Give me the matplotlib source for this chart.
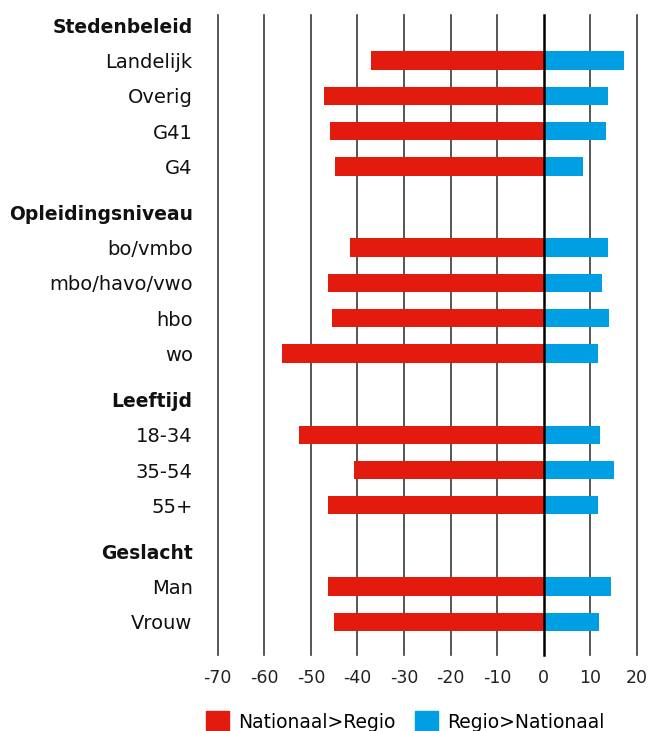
import matplotlib.pyplot as plt
from matplotlib.patches import Patch

plt.rcParams['font.family'] = ['DejaVu Sans']

# groups and their categories (top to bottom)
groups = ['Stedenbeleid', 'Opleidingsniveau', 'Leeftijd', 'Geslacht']
categories = [
    ['Landelijk', 'Overig', 'G41', 'G4'],
    ['bo/vmbo', 'mbo/havo/vwo', 'hbo', 'wo'],
    ['18-34', '35-54', '55+'],
    ['Man', 'Vrouw'],
]
nat_regio = [
    [-37.1, -47.2, -45.9, -44.8],
    [-41.6, -46.3, -45.5, -56.2],
    [-52.5, -40.7, -46.3],
    [-46.3, -45.0],
]
regio_nat = [
    [17.3, 13.8, 13.4, 8.4],
    [13.8, 12.5, 14.0, 11.7],
    [12.1, 15.1, 11.7],
    [14.5, 11.9],
]
xticks = [-70, -60, -50, -40, -30, -20, -10, 0, 10, 20]

red = '#e21b0e'
blue = '#009fe3'

fig = plt.figure(figsize=(6.51, 7.31), dpi=100)
ax = fig.add_axes([0.3344, 0.104, 0.6441, 0.8755])

# build row positions: header slightly above each group, gap between groups
tick_pos, tick_lab, bold = [], [], []
y = 0.0
for gi, g in enumerate(groups):
    if gi > 0:
        y += 2.3
    tick_pos.append(y - 1.0)
    tick_lab.append(g)
    bold.append(True)
    for ci, c in enumerate(categories[gi]):
        yy = y + ci
        ax.barh(yy, nat_regio[gi][ci], height=0.52, color=red, zorder=3)
        ax.barh(yy, regio_nat[gi][ci], height=0.52, color=blue, zorder=3)
        tick_pos.append(yy)
        tick_lab.append(c)
        bold.append(False)
    y = y + len(categories[gi]) - 1

ax.set_ylim(y + 0.94, -1.29)
ax.set_xlim(-70, 20)
ax.tick_params(axis='both', length=0)
ax.tick_params(axis='x', pad=10)
ax.tick_params(axis='y', pad=18)
ax.set_xticks(xticks)
ax.set_xticklabels([str(t) for t in xticks], fontsize=12.5, color='#222222')
ax.set_yticks(tick_pos)
ax.set_yticklabels(tick_lab, fontsize=14, color='#111111')
for lab, b in zip(ax.get_yticklabels(), bold):
    if b:
        lab.set_fontweight('bold')
        lab.set_fontsize(13.5)

for s in ax.spines.values():
    s.set_visible(False)

for t in xticks:
    if t == 0:
        ax.axvline(t, color='black', lw=1.8, zorder=4, clip_on=False)
    else:
        ax.axvline(t, color='#3a3a3a', lw=1.2, zorder=1, clip_on=False)

handles = [Patch(color=red, label='Nationaal>Regio'),
           Patch(color=blue, label='Regio>Nationaal')]
fig.legend(handles=handles, loc='lower left', bbox_to_anchor=(0.29, -0.024),
           ncol=2, frameon=False, fontsize=13.5, handlelength=1.25,
           handleheight=1.25, handletextpad=0.5, columnspacing=1.0)

fig.savefig('out.png', dpi=100)
